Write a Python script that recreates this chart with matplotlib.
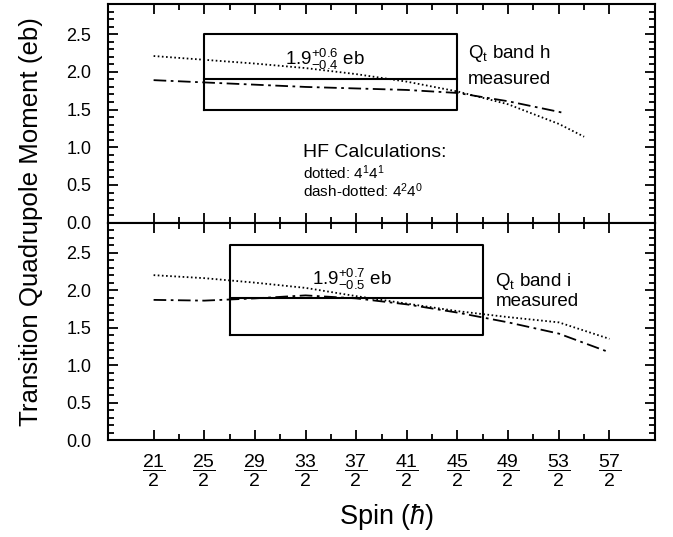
import numpy as np
import matplotlib
matplotlib.use("Agg")
import matplotlib.pyplot as plt
from matplotlib.ticker import MultipleLocator, FixedLocator

plt.rcParams['font.family'] = ['Liberation Sans', 'DejaVu Sans']
plt.rcParams['mathtext.fontset'] = 'custom'
plt.rcParams['mathtext.rm'] = 'Liberation Sans'
plt.rcParams['mathtext.it'] = 'Liberation Sans:italic'
plt.rcParams['mathtext.bf'] = 'Liberation Sans:bold'

# spin values (in units of hbar)
spin_h_dot = [10.5, 12.5, 14.5, 16.5, 18.5, 20.5, 22.5, 24.5, 26.5, 27.5]
h_dot = [2.21, 2.16, 2.11, 2.05, 1.97, 1.87, 1.74, 1.57, 1.31, 1.14]
spin_h_dd = [10.5, 12.5, 14.5, 16.5, 18.5, 20.5, 22.5, 24.5, 26.5, 26.75]
h_dd = [1.89, 1.86, 1.83, 1.80, 1.78, 1.76, 1.72, 1.61, 1.47, 1.45]

spin_i = [10.5, 12.5, 14.5, 16.5, 18.5, 20.5, 22.5, 24.5, 26.5, 28.5]
i_dot = [2.20, 2.16, 2.10, 2.03, 1.92, 1.82, 1.72, 1.64, 1.57, 1.35]
i_dd = [1.87, 1.86, 1.89, 1.93, 1.89, 1.81, 1.70, 1.57, 1.42, 1.17]

# measured Qt bands: value, +err, -err, spin range
h_meas = (1.9, 0.6, 0.4, 12.5, 22.5)
i_meas = (1.9, 0.7, 0.5, 13.5, 23.5)

tick_spins = [10.5, 12.5, 14.5, 16.5, 18.5, 20.5, 22.5, 24.5, 26.5, 28.5]
tick_labels = [r'$\mathregular{\dfrac{%d}{2}}$' % int(2 * s) for s in tick_spins]

fig = plt.figure(figsize=(6.73, 5.37), dpi=100)
ax1 = fig.add_axes([0.1605, 0.5853, 0.8128, 0.4073])
ax2 = fig.add_axes([0.1605, 0.1806, 0.8128, 0.4047])

dot_style = dict(color='black', lw=1.3, linestyle=(0, (0.9, 1.4)))
dd_style = dict(color='black', lw=1.3, linestyle=(0, (7, 2.5, 1.5, 2.5)))

def draw_box(ax, meas):
    q, up, lo, x0, x1 = meas
    ax.plot([x0, x1, x1, x0, x0], [q - lo, q - lo, q + up, q + up, q - lo], color='black', lw=1.5)
    ax.plot([x0, x1], [q, q], color='black', lw=1.5)

ax1.plot(spin_h_dot, h_dot, **dot_style)
ax1.plot(spin_h_dd, h_dd, **dd_style)
draw_box(ax1, h_meas)
ax1.text(17.25, 2.17, r'1.9$^{+0.6}_{-0.4}$ eb', fontsize=13.5, ha='center', va='center')
ax1.text(22.9, 2.24, r'Q$_\mathregular{t}$ band h', fontsize=13.5, ha='left', va='center')
ax1.text(22.9, 1.90, 'measured', fontsize=13.5, ha='left', va='center')
ax1.text(16.4, 0.93, 'HF Calculations:', fontsize=14, ha='left', va='center')
ax1.text(16.4, 0.66, r'dotted: 4$^1$4$^1$', fontsize=11, ha='left', va='center')
ax1.text(16.4, 0.42, r'dash-dotted: 4$^2$4$^0$', fontsize=11, ha='left', va='center')

ax2.plot(spin_i, i_dot, **dot_style)
ax2.plot(spin_i, i_dd, **dd_style)
draw_box(ax2, i_meas)
ax2.text(18.35, 2.14, r'1.9$^{+0.7}_{-0.5}$ eb', fontsize=13.5, ha='center', va='center')
ax2.text(24.0, 2.11, r'Q$_\mathregular{t}$ band i', fontsize=13.5, ha='left', va='center')
ax2.text(24.0, 1.85, 'measured', fontsize=13.5, ha='left', va='center')

for ax in (ax1, ax2):
    ax.set_xlim(8.7, 30.3)
    ax.set_ylim(0, 2.9)
    ax.xaxis.set_major_locator(FixedLocator(tick_spins))
    ax.xaxis.set_minor_locator(FixedLocator([s + 1 for s in tick_spins[:-1]]))
    ax.yaxis.set_major_locator(MultipleLocator(0.5))
    ax.yaxis.set_minor_locator(MultipleLocator(0.1))
    ax.tick_params(which='both', direction='in', top=True, right=True, width=1.3)
    ax.tick_params(which='major', length=7)
    ax.tick_params(which='minor', length=4)
    ax.tick_params(axis='y', labelsize=13, pad=12)
    for sp in ax.spines.values():
        sp.set_linewidth(1.5)
    ax.set_yticks([0, 0.5, 1.0, 1.5, 2.0, 2.5])
    ax.set_yticklabels(['0.0', '0.5', '1.0', '1.5', '2.0', '2.5'])

ax1.tick_params(axis='x', labelbottom=False)
ax2.set_xticklabels(tick_labels)
ax2.tick_params(axis='x', labelsize=14, pad=9)

fig.text(0.046, 0.588, 'Transition Quadrupole Moment (eb)', rotation=90, fontsize=18.6,
         ha='center', va='center')
fig.text(0.574, 0.037, r'Spin ($\hbar$)', fontsize=19.5, ha='center', va='center')

fig.savefig('out.png', dpi=100)
